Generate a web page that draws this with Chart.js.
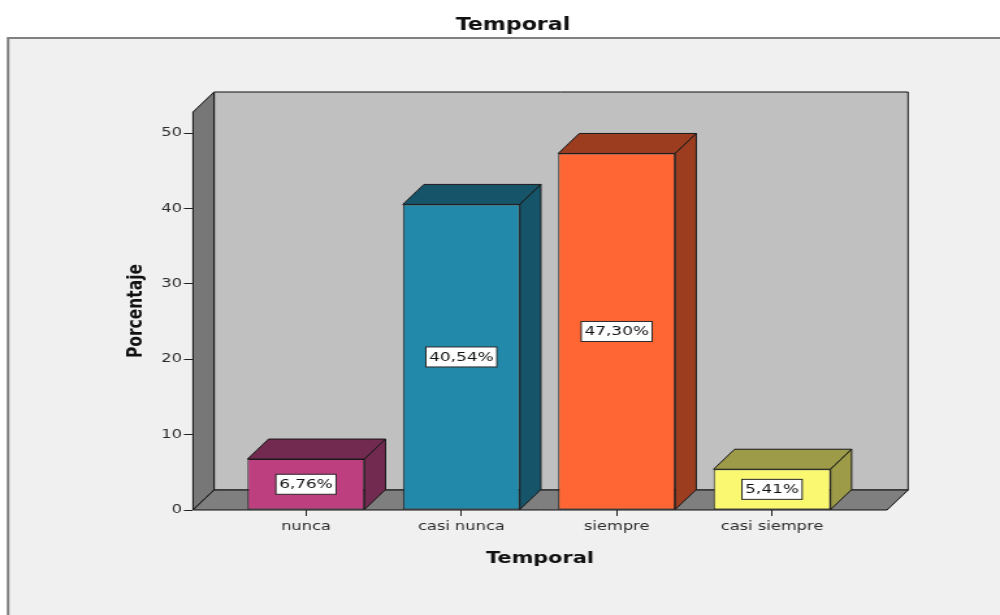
<!DOCTYPE html>
<html>
<head>
<meta charset="utf-8">
<title>Temporal</title>
<script src="https://cdn.jsdelivr.net/npm/chart.js@4.4.1/dist/chart.umd.min.js"></script>
<style>
  html, body { margin: 0; padding: 0; background: #fff; overflow: hidden; }
  /* the drawing buffer is narrower than the page and widened by CSS */
  #c { display: block; width: 1000px !important; height: 615px !important; }
</style>
</head>
<body>
<canvas id="c" width="769" height="615"></canvas>
<script>
// ---- data ----
const categories = ['nunca', 'casi nunca', 'siempre', 'casi siempre'];
const percentages = [6.76, 40.54, 47.30, 5.41];
const yTicks = [0, 10, 20, 30, 40, 50];

// ---- styling ----
const frontColors = ['#bd3f80', '#2389ab', '#ff6633', '#faf770'];
const sideColors  = ['#732a50', '#16546a', '#9c3d20', '#9d9a48'];
const FONT = "'DejaVu Sans', 'Liberation Sans', Arial, sans-serif";
const DEPTH_X = 16.2;   // oblique depth of the 3D box
const DEPTH_Y = -20;

const fmt = v => v.toFixed(2).replace('.', ',') + '%';

function poly(ctx, pts, fill) {
  ctx.beginPath();
  ctx.moveTo(pts[0][0], pts[0][1]);
  for (let k = 1; k < pts.length; k++) ctx.lineTo(pts[k][0], pts[k][1]);
  ctx.closePath();
  ctx.fillStyle = fill;
  ctx.fill();
  ctx.stroke();
}

// Panel frame, back wall, side wall and floor; bar tops/sides and value boxes.
const scene3d = {
  id: 'scene3d',
  beforeDraw(chart) {
    const { ctx, width, height, chartArea: a } = chart;
    ctx.save();
    ctx.fillStyle = '#ffffff';
    ctx.fillRect(0, 0, width, height);
    ctx.fillStyle = '#f0f0f0';
    ctx.fillRect(6.2, 38, width, height);
    ctx.strokeStyle = '#808080';
    ctx.lineWidth = 2;
    ctx.beginPath();
    ctx.moveTo(6.2, height);
    ctx.lineTo(6.2, 38);
    ctx.lineTo(width, 38);
    ctx.stroke();

    const L = a.left, R = a.right, T = a.top, B = a.bottom;
    const dx = DEPTH_X, dy = DEPTH_Y;
    ctx.lineWidth = 1;
    ctx.strokeStyle = '#111';
    ctx.lineJoin = 'miter';
    poly(ctx, [[L + dx, T + dy], [R + dx, T + dy], [R + dx, B + dy], [L + dx, B + dy]], '#c0c0c0');
    poly(ctx, [[L, B], [L, T], [L + dx, T + dy], [L + dx, B + dy]], '#777777');
    poly(ctx, [[L, B], [R, B], [R + dx, B + dy], [L + dx, B + dy]], '#7f7f7f');
    ctx.restore();
  },
  afterDatasetsDraw(chart) {
    const { ctx } = chart;
    const dx = DEPTH_X, dy = DEPTH_Y;
    const meta = chart.getDatasetMeta(0);
    ctx.save();
    ctx.lineWidth = 1;
    ctx.strokeStyle = '#1a1a1a';
    meta.data.forEach((bar, i) => {
      const { x, y, base, width } = bar.getProps(['x', 'y', 'base', 'width'], true);
      const x0 = x - width / 2, x1 = x + width / 2;
      poly(ctx, [[x0, y], [x1, y], [x1 + dx, y + dy], [x0 + dx, y + dy]], sideColors[i]);
      poly(ctx, [[x1, y], [x1, base], [x1 + dx, base + dy], [x1 + dx, y + dy]], sideColors[i]);
    });
    ctx.font = '13px ' + FONT;
    ctx.textAlign = 'center';
    ctx.textBaseline = 'middle';
    meta.data.forEach((bar, i) => {
      const { x, y, base } = bar.getProps(['x', 'y', 'base'], true);
      const txt = fmt(percentages[i]);
      const tw = ctx.measureText(txt).width;
      const cy = (y + base) / 2;
      const bw = tw + 5, bh = 20;
      ctx.fillStyle = '#ffffff';
      ctx.fillRect(x - bw / 2, cy - bh / 2, bw, bh);
      ctx.strokeStyle = '#2a2a2a';
      ctx.strokeRect(x - bw / 2, cy - bh / 2, bw, bh);
      ctx.fillStyle = '#111';
      ctx.fillText(txt, x, cy + 0.5);
    });
    ctx.restore();
  }
};

new Chart(document.getElementById('c'), {
  type: 'bar',
  data: {
    datasets: [{
      label: 'Porcentaje',
      data: percentages.map((v, i) => ({ x: i, y: v })),
      backgroundColor: frontColors,
      borderColor: '#1a1a1a',
      borderWidth: 1,
      borderSkipped: false,
      barPercentage: 0.753,
      categoryPercentage: 1
    }]
  },
  options: {
    responsive: false,
    devicePixelRatio: 1,
    animation: false,
    layout: { padding: { left: 106.9, right: 86.9, top: 0, bottom: 0 } },
    plugins: {
      legend: { display: false },
      tooltip: { enabled: false },
      title: {
        display: true,
        text: 'Temporal',
        color: '#111',
        font: { family: FONT, size: 17, weight: 'bold' },
        padding: { top: 15.3, bottom: 76.3 }
      }
    },
    scales: {
      x: {
        type: 'linear',
        offset: false,
        min: -0.7275,
        max: 3.74,
        afterBuildTicks: s => { s.ticks = categories.map((_, i) => ({ value: i })); },
        afterFit: s => { s.height = 105; },
        grid: { offset: false, drawOnChartArea: false, drawTicks: true, tickLength: 6, color: '#222' },
        border: { display: false },
        ticks: {
          callback: v => categories[v],
          autoSkip: false,
          maxRotation: 0,
          padding: 3,
          color: '#2b2b2b',
          font: { family: FONT, size: 12.5 }
        },
        title: {
          display: true,
          text: 'Temporal',
          color: '#111',
          font: { family: FONT, size: 16, weight: 'bold' },
          padding: { top: 0, bottom: 47 }
        }
      },
      y: {
        min: 0,
        max: 52.8,
        afterBuildTicks: s => { s.ticks = yTicks.map(v => ({ value: v })); },
        afterFit: s => { s.width = 41.5; },
        grid: { drawOnChartArea: false, drawTicks: true, tickLength: 7, color: '#222' },
        border: { display: false },
        ticks: {
          padding: 1.5,
          color: '#2b2b2b',
          font: { family: FONT, size: 12.5 }
        },
        title: {
          display: true,
          text: 'Porcentaje',
          color: '#111',
          font: { family: FONT, size: 15.5, weight: 'bold' },
          padding: { top: -10.8, bottom: 0 }
        }
      }
    }
  },
  plugins: [scene3d]
});
</script>
</body>
</html>
